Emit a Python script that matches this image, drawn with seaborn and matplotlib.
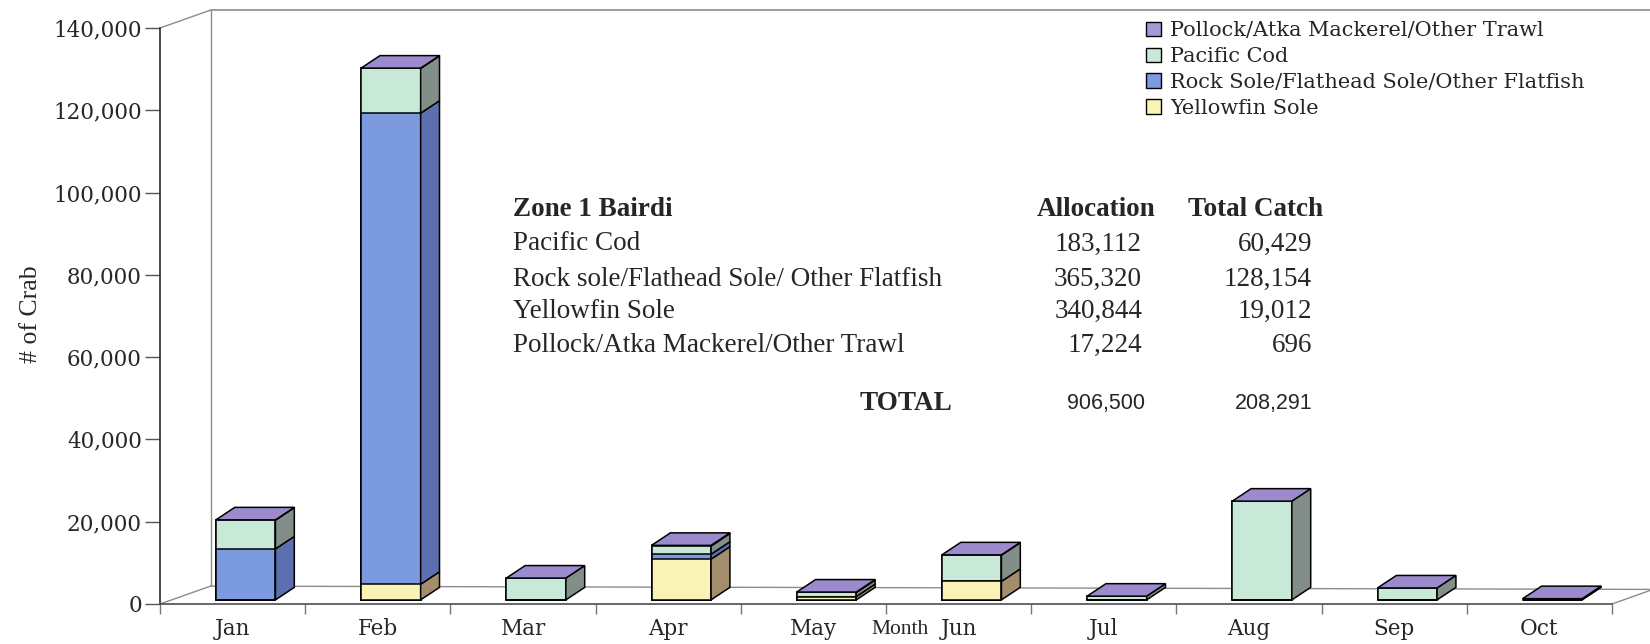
import numpy as np
import pandas as pd
import matplotlib
matplotlib.use("Agg")
import matplotlib.pyplot as plt
import seaborn as sns
from matplotlib.patches import Patch

# ---------------- data ----------------
months = ["Jan", "Feb", "Mar", "Apr", "May", "Jun", "Jul", "Aug", "Sep", "Oct"]
yellowfin = [0, 3800, 0, 9900, 800, 4500, 0, 0, 0, 0]
rock_sole = [12400, 114500, 0, 1200, 0, 0, 0, 0, 0, 0]
pacific_cod = [7000, 10900, 5300, 2000, 1000, 6400, 900, 24000, 2900, 0]
pollock = [50, 50, 0, 150, 100, 46, 0, 0, 0, 300]
series_names = ["Yellowfin Sole", "Rock Sole/Flathead Sole/Other Flatfish",
                "Pacific Cod", "Pollock/Atka Mackerel/Other Trawl"]
y_ticks = [0, 20000, 40000, 60000, 80000, 100000, 120000, 140000]

table_title = "Zone 1 Bairdi"
table_rows = ["Pacific Cod", "Rock sole/Flathead Sole/ Other Flatfish",
              "Yellowfin Sole", "Pollock/Atka Mackerel/Other Trawl"]
table_alloc = ["183,112", "365,320", "340,844", "17,224"]
table_catch = ["60,429", "128,154", "19,012", "696"]
total_alloc = "906,500"
total_catch = "208,291"

# ---------------- style ----------------
front_cols = ["#faf3b6", "#7c9ae0", "#c8e8d8", "#a898d8"]
side_cols = ["#a38d6c", "#5d6fae", "#828f88", "#7a6aa8"]
top_col = "#9b8bcc"
wall_col = "#8c8c8c"

sns.set_theme(style="white")
plt.rcParams['font.family'] = ['Liberation Serif', 'DejaVu Serif']

W, H = 1650, 644
fig = plt.figure(figsize=(W / 100, H / 100), dpi=100)
zero_px, top_px = 604.0, 28.0
k = (zero_px - top_px) / 140000.0          # px per unit
ylo, yhi = -1500, 145000
xlo, xhi = -0.5, 9.76
cat_px = 145.2
ax_bot_px = zero_px - ylo * k
ax_top_px = zero_px - yhi * k
ax = fig.add_axes([160 / W, (H - ax_bot_px) / H, (xhi - xlo) * cat_px / W,
                   (ax_bot_px - ax_top_px) / H])

BASE = 1000          # bars sit slightly behind the front edge
bar_w = 0.41
shift = 0.09
ddx, ddy = 0.13, 3040     # bar depth offset
wdx, wdy = 0.348, 4350    # wall depth offset

layers = [yellowfin, rock_sole, pacific_cod, pollock]
cum = np.cumsum(np.array(layers, dtype=float), axis=0)
pos = np.arange(len(months)) + shift

# ---- walls / floor (behind) ----
ax.plot([xlo + wdx, xlo + wdx], [wdy, 140000 + wdy], color=wall_col, lw=1, zorder=1)
ax.plot([xlo, xlo + wdx], [140000, 140000 + wdy], color=wall_col, lw=1, zorder=1)
ax.plot([xlo + wdx, xhi], [140000 + wdy, 140000 + wdy], color=wall_col, lw=1.2, zorder=1)
ax.plot([xlo, xlo + wdx], [0, wdy], color=wall_col, lw=1, zorder=1)
ax.plot([xlo + wdx, xhi], [wdy, wdy - 800], color=wall_col, lw=1, zorder=1)
ax.plot([len(months) - 0.5, xhi], [0, wdy * 0.75], color=wall_col, lw=1, zorder=1)

# ---- front faces via seaborn (layered cumulative) ----
for li in range(len(layers) - 1, -1, -1):
    df = pd.DataFrame({"pos": pos, "h": cum[li]})
    sns.barplot(data=df, x="pos", y="h", native_scale=True, orient="x",
                width=bar_w, color=front_cols[li], saturation=1,
                edgecolor="black", linewidth=1.1, bottom=BASE,
                errorbar=None, ax=ax, zorder=3)

# ---- side and top faces ----
for i, p in enumerate(pos):
    xl = p - bar_w / 2
    xr = p + bar_w / 2
    prev = 0.0
    for li in range(len(layers)):
        top = cum[li][i]
        if top > prev:
            y0, y1 = BASE + prev, BASE + top
            ax.fill([xr, xr + ddx, xr + ddx, xr], [y0, y0 + ddy, y1 + ddy, y1],
                    facecolor=side_cols[li], edgecolor="black", lw=1.1, zorder=3)
        prev = top
    T = BASE + cum[-1][i]
    ax.fill([xl, xr, xr + ddx, xl + ddx], [T, T, T + ddy, T + ddy],
            facecolor=top_col, edgecolor="black", lw=1.1, zorder=3)

# ---- axes ----
ax.set_xlim(xlo, xhi)
ax.set_ylim(ylo, yhi)
for s in ["top", "right"]:
    ax.spines[s].set_visible(False)
ax.spines["left"].set_bounds(0, 140000)
ax.spines["left"].set_color("#333333")
ax.spines["bottom"].set_position(("data", 0))
ax.spines["bottom"].set_bounds(-0.5, len(months) - 0.5)
ax.spines["bottom"].set_color("#555555")
ax.set_yticks(y_ticks)
ax.set_yticklabels([f"{v:,}" for v in y_ticks], family="DejaVu Serif", fontsize=15.5)
ax.tick_params(axis="y", direction="out", length=11, width=1, color="#555555",
               pad=2, left=True)
ax.set_xticks(np.arange(len(months)))
ax.set_xticklabels(months, family="DejaVu Serif", fontsize=15.5)
ax.set_xticks(np.arange(len(months) + 1) - 0.5, minor=True)
ax.tick_params(axis="x", which="major", length=0, pad=10)
ax.tick_params(axis="x", which="minor", direction="out", length=7, width=1,
               color="#777777", bottom=True)
ax.set_xlabel("Month", fontsize=15.5)
ax.xaxis.set_label_coords(0.497, -0.016)
ax.set_ylabel("")
ax.grid(False)
ax.patch.set_alpha(0)

fig.text(31 / W, 1 - 314 / H, "# of Crab", rotation=90, ha="center", va="center",
         fontsize=18.5)

# ---- legend ----
handles = [Patch(facecolor=front_cols[li], edgecolor="black", lw=1)
           for li in [3, 2, 1, 0]]
labels = [series_names[li] for li in [3, 2, 1, 0]]
fig.legend(handles, labels, loc="upper left", bbox_to_anchor=(1138 / W, 1 - 13 / H),
           frameon=False, prop={"family": "DejaVu Serif", "size": 15},
           handlelength=0.7, handleheight=0.7, handletextpad=0.45,
           labelspacing=0.33, borderaxespad=0)

# ---- summary table ----
def ft(x, y, s, **kw):
    fig.text(x / W, 1 - y / H, s, va="center", **kw)

fs = 19.5
ft(513, 210, table_title, fontsize=fs, weight="bold")
ft(1096, 210, "Allocation", fontsize=fs, weight="bold", ha="center")
ft(1256, 210, "Total Catch", fontsize=fs, weight="bold", ha="center")
row_y = [244, 279, 311, 345]
for r, a, c, y in zip(table_rows, table_alloc, table_catch, row_y):
    ft(513, y, r, fontsize=fs)
    ft(1142, y, a, fontsize=fs, ha="right")
    ft(1312, y, c, fontsize=fs, ha="right")
ft(952, 403, "TOTAL", fontsize=fs, weight="bold", ha="right")
ft(1145, 403, total_alloc, fontsize=15.5, ha="right", family="Liberation Sans")
ft(1313, 403, total_catch, fontsize=15.5, ha="right", family="Liberation Sans")

fig.savefig("out.png", dpi=100)
